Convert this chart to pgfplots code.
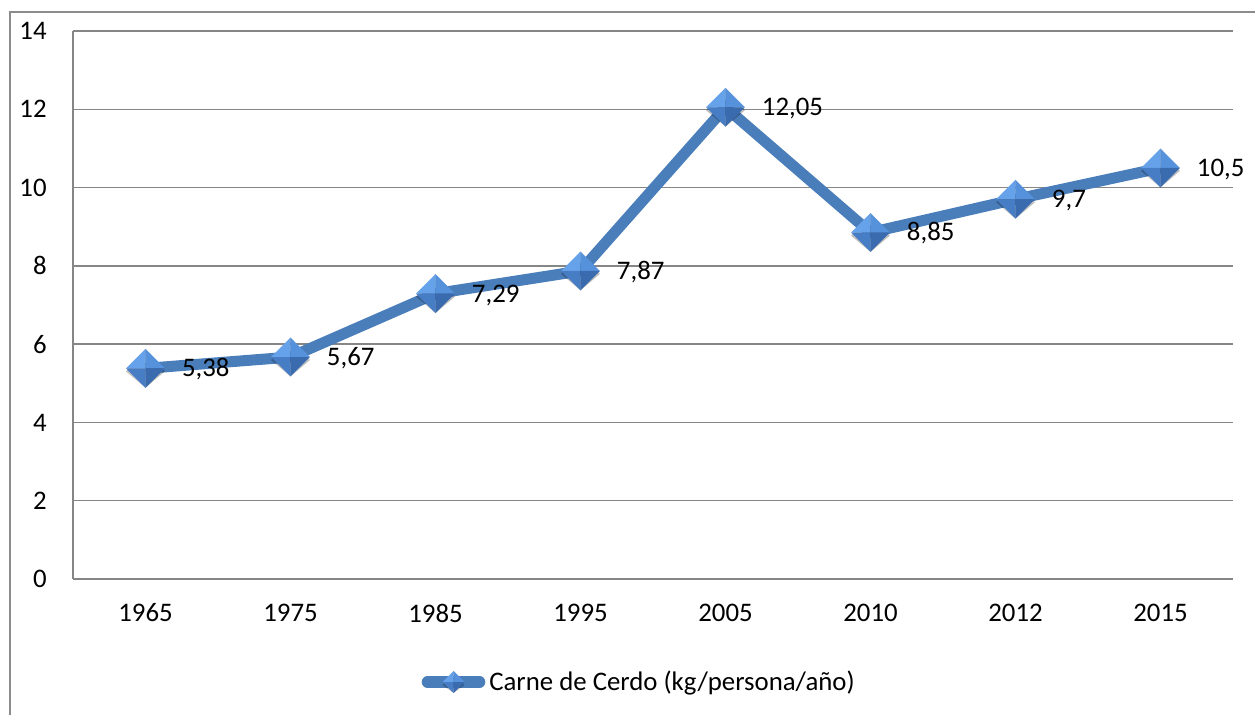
\documentclass[border=0pt]{standalone}
\usepackage{pgfplots}
\pgfplotsset{compat=1.18}
\usepackage{pgfplotstable}
\usepackage{fontspec}
\setmainfont{Carlito}
\definecolor{lineblue}{HTML}{4A7EBB}
\definecolor{dTL}{HTML}{66A2EA}
\definecolor{dTR}{HTML}{5692DC}
\definecolor{dBL}{HTML}{477DC4}
\definecolor{dBR}{HTML}{3A6BAF}
\definecolor{gridgray}{HTML}{868686}
\definecolor{framegray}{HTML}{8C8C8C}

\pgfdeclareplotmark{sdiamond}{%
  % shadow
  \begin{pgfscope}
  \pgfsetfillopacity{0.25}\pgfsetfillcolor{black}%
  \pgfpathmoveto{\pgfqpoint{-\pgfplotmarksize}{-1.5pt}}%
  \pgfpathlineto{\pgfqpoint{0pt}{\pgfplotmarksize-1.5pt}}%
  \pgfpathlineto{\pgfqpoint{\pgfplotmarksize}{-1.5pt}}%
  \pgfpathlineto{\pgfqpoint{0pt}{-\pgfplotmarksize-1.5pt}}%
  \pgfpathclose\pgfusepath{fill}%
  \end{pgfscope}
  \pgfsetfillcolor{dTL}%
  \pgfpathmoveto{\pgfqpoint{-\pgfplotmarksize}{0pt}}%
  \pgfpathlineto{\pgfqpoint{0pt}{\pgfplotmarksize}}%
  \pgfpathlineto{\pgfqpoint{0pt}{0pt}}\pgfpathclose\pgfusepath{fill}%
  \pgfsetfillcolor{dTR}%
  \pgfpathmoveto{\pgfqpoint{\pgfplotmarksize}{0pt}}%
  \pgfpathlineto{\pgfqpoint{0pt}{\pgfplotmarksize}}%
  \pgfpathlineto{\pgfqpoint{0pt}{0pt}}\pgfpathclose\pgfusepath{fill}%
  \pgfsetfillcolor{dBL}%
  \pgfpathmoveto{\pgfqpoint{-\pgfplotmarksize}{0pt}}%
  \pgfpathlineto{\pgfqpoint{0pt}{-\pgfplotmarksize}}%
  \pgfpathlineto{\pgfqpoint{0pt}{0pt}}\pgfpathclose\pgfusepath{fill}%
  \pgfsetfillcolor{dBR}%
  \pgfpathmoveto{\pgfqpoint{\pgfplotmarksize}{0pt}}%
  \pgfpathlineto{\pgfqpoint{0pt}{-\pgfplotmarksize}}%
  \pgfpathlineto{\pgfqpoint{0pt}{0pt}}\pgfpathclose\pgfusepath{fill}%
}

\pgfplotstableread{
x y lab
0 5.38 5,38
1 5.67 5,67
2 7.29 7,29
3 7.87 7,87
4 12.05 12,05
5 8.85 8,85
6 9.7 9,7
7 10.5 10,5
}\datatable

\begin{document}
\begin{tikzpicture}
\useasboundingbox (0pt,0pt) rectangle (627.5pt,357.5pt);
\draw[framegray, line width=0.8pt] (5pt,-5pt) -- (5pt,351.5pt) -- (640pt,351.5pt);
\begin{axis}[
  at={(36.5pt,68pt)}, anchor=south west,
  scale only axis, width=580pt, height=274pt,
  xmin=-0.5, xmax=7.5, ymin=0, ymax=14,
  xtick={0,...,7},
  xticklabels={1965,1975,1985,1995,2005,2010,2012,2015},
  ytick={0,2,...,14},
  ymajorgrids,
  grid style={gridgray, line width=0.7pt},
  axis x line*=bottom, axis y line*=left,
  axis line style={gridgray, line width=0.7pt},
  major tick length=0pt,
  tick label style={font=\fontsize{13.4}{16}\selectfont},
  /pgf/number format/assume math mode=true,
  yticklabel style={anchor=east, inner sep=0pt, xshift=-13pt},
  xticklabel style={anchor=center, inner sep=0pt, yshift=-17pt},
  legend style={at={(0.489,-0.188)}, anchor=center, draw=none, fill=none,
    inner sep=0pt, font=\fontsize{13.4}{16}\selectfont,
    /tikz/every even column/.append style={column sep=0pt}},
  legend image code/.code={%
    \draw[#1, line width=5.8pt, line cap=round, mark size=5.5pt]
      plot[mark repeat=2, mark phase=2] coordinates {(0pt,0pt) (13pt,0pt) (26pt,0pt)};},
  clip=false,
]
\addplot[lineblue, line width=5.5pt, mark=sdiamond, mark size=9.7pt,
  nodes near coords, point meta=explicit symbolic,
  every node near coord/.style={anchor=base west, inner sep=0pt, xshift=15.5pt, yshift=-4.2pt,
    text=black, font=\fontsize{13.4}{16}\selectfont}]
  table[x=x, y=y, meta=lab] {\datatable};
\addlegendentry{Carne de Cerdo (kg/persona/año)}
\end{axis}
\end{tikzpicture}
\end{document}
